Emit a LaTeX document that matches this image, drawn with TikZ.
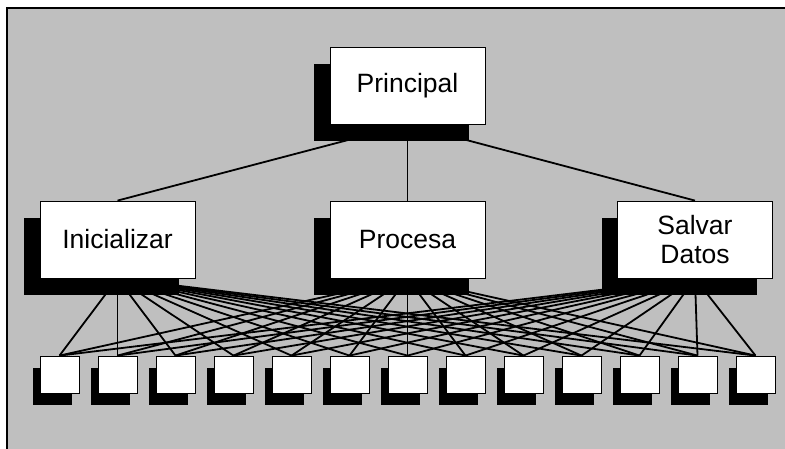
\documentclass[tikz,border=0pt]{standalone}
\usepackage{fontspec}
\setmainfont{Liberation Sans}
\usetikzlibrary{shadows}
\pgfdeclarelayer{paper}
\pgfdeclarelayer{wires}
\pgfsetlayers{paper,wires,main}
\tikzset{modbox/.style={draw, fill=white, line width=0.8pt, align=center, minimum width=155pt, minimum height=77pt, inner sep=0pt, font=\fontsize{26.5}{29}\selectfont, drop shadow={shadow xshift=-16pt, shadow yshift=-17pt, fill=black, opacity=1}},leaf/.style={draw, fill=white, line width=0.8pt, minimum width=39pt, minimum height=37pt, inner sep=0pt, drop shadow={shadow xshift=-7pt, shadow yshift=-12pt, fill=black, opacity=1}},link/.style={line width=1.8pt}}

\begin{document}
\begin{tikzpicture}[x=1pt, y=-1pt,
   frame/.style={line width=2pt}]
  \useasboundingbox (0,0) rectangle (785,449);

  % fondo
  \begin{pgfonlayer}{paper}
    \fill[black!25] (7,8) rectangle (785,449);
    \draw[frame] (7,449) -- (7,8) -- (785,8);
  \end{pgfonlayer}

  % modulos
  \node[modbox] (prin) at (407.5,85.5) {Principal};
  \node[modbox] (ini) at (117.5,239.5) {Inicializar};
  \node[modbox] (pro) at (407.5,239.5) {Procesa};
  \node[modbox] (sal) at (695,239.5) {Salvar\\ Datos};

  % rutinas
  \foreach \i in {1,...,13}
    \node[leaf] (r\i) at ({59.5+58*(\i-1)},374.5) {};

  % conexiones
  \begin{pgfonlayer}{wires}
    \draw[link] (prin.south) -- (ini.north);
    \draw[link] (prin.south) -- (pro.north);
    \draw[link] (prin.south) -- (sal.north);
    \foreach \m in {ini,pro,sal}
      \foreach \i in {1,...,13}
        \draw[link] (\m.south) -- (r\i.north);
  \end{pgfonlayer}
\end{tikzpicture}
\end{document}
